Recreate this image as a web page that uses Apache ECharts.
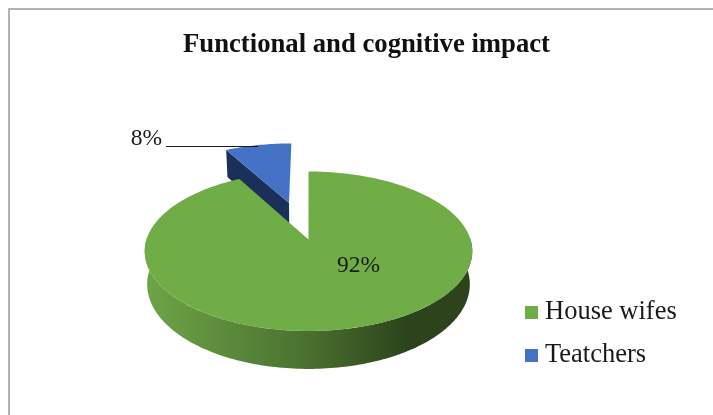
<!DOCTYPE html>
<html>
<head>
<meta charset="utf-8">
<style>html,body{margin:0;padding:0;background:#fff}#chart{width:713px;height:415px}</style>
<script src="https://cdn.jsdelivr.net/npm/echarts@6/dist/echarts.min.js"></script>
</head>
<body>
<div id="chart"></div>
<script>
const chartTitle = 'Functional and cognitive impact';
const categories = ['House wifes', 'Teatchers'];
const shares = [92, 8];
const topColors = ['#70ad47', '#4472c4'];
const wallStops = [
  [[0, '#6ea546'], [0.5, '#4a7030'], [0.8, '#2c431b'], [1, '#2c431b']],
  [[0, '#1b3059'], [1, '#1b3059']]
];
const serif = '"Liberation Serif", serif';

// Tilted disc: unit-circle coordinates are projected with a simple perspective.
const disc = { cx: 308.5, cy: 239.5, sx: 162, sy: 78, k: 0.147, depth: 32.4, shrink: 0.985 };
const explode = [0, 0.52];

function project(X, Y, lift) {
  const w = 1 + disc.k * Y;
  const f = lift ? disc.shrink : 1;
  return [
    disc.cx + f * disc.sx * X / w,
    disc.cy - disc.sy * Y / w + (lift ? disc.depth / w : 0)
  ];
}

function sliceLayout(index) {
  const total = shares.reduce((a, b) => a + b, 0);
  let before = 0;
  for (let i = 0; i < index; i++) before += shares[i];
  const start = before / total * 2 * Math.PI;
  const end = (before + shares[index]) / total * 2 * Math.PI;
  const mid = (start + end) / 2;
  return { start, end, ox: explode[index] * Math.sin(mid), oy: explode[index] * Math.cos(mid) };
}

function rim(s, lift, from, to) {
  const pts = [];
  const n = Math.max(2, Math.ceil((to - from) / 0.02));
  for (let i = 0; i <= n; i++) {
    const a = from + (to - from) * i / n;
    pts.push(project(s.ox + Math.sin(a), s.oy + Math.cos(a), lift));
  }
  return pts;
}

function renderSlice(index) {
  return function (params, api) {
    const s = sliceLayout(index);
    const apexTop = project(s.ox, s.oy, false);
    const apexLow = project(s.ox, s.oy, true);
    const children = [];
    const wallFill = {
      type: 'linear', x: 0, y: 0, x2: 1, y2: 0,
      colorStops: wallStops[index].map(([offset, color]) => ({ offset, color }))
    };
    if (index === 0) {
      // Outer wall along the near half of the disc.
      const nearFrom = Math.PI / 2 - 0.02, nearTo = 3 * Math.PI / 2 + 0.02;
      const upper = rim(s, false, nearFrom, nearTo);
      const lower = rim(s, true, nearFrom, nearTo).reverse();
      children.push({ type: 'polygon', shape: { points: upper.concat(lower) }, style: { fill: wallFill } });
    } else {
      // Cut face of the pulled-out slice, on its left-hand side.
      const edgeTop = project(s.ox + Math.sin(s.start), s.oy + Math.cos(s.start), false);
      const edgeLow = project(s.ox + Math.sin(s.start), s.oy + Math.cos(s.start), true);
      children.push({ type: 'polygon', shape: { points: [edgeTop, apexTop, apexLow, edgeLow] }, style: { fill: wallFill } });
    }
    const face = [apexTop].concat(rim(s, false, s.start, s.end));
    children.push({ type: 'polygon', shape: { points: face }, style: { fill: topColors[index] } });
    return { type: 'group', children };
  };
}

// Percent labels; the 8% label hangs on a leader line.
function renderLabels() {
  const text = (value, x, y) => ({
    type: 'text', x, y,
    style: { text: value + '%', fill: '#1a1a1a', font: '23.5px ' + serif, align: 'center', verticalAlign: 'middle' }
  });
  return {
    type: 'group',
    children: [
      { type: 'line', shape: { x1: 166, y1: 146.5, x2: 258, y2: 146.5 }, style: { stroke: '#1a1a1a', lineWidth: 1 } },
      text(shares[1], 146.5, 139),
      text(shares[0], 358.5, 266)
    ]
  };
}

const chart = echarts.init(document.getElementById('chart'), null, { renderer: 'canvas' });
chart.setOption({
  animation: false,
  backgroundColor: '#ffffff',
  title: {
    text: chartTitle, left: 178, top: 27,
    textStyle: { fontFamily: serif, fontWeight: 'bold', fontSize: 26.7, color: '#111111' }
  },
  legend: {
    orient: 'vertical', left: 520, top: 294, icon: 'rect',
    itemWidth: 13, itemHeight: 13, itemGap: 16,
    data: categories,
    textStyle: { fontFamily: serif, fontSize: 26.5, color: '#1a1a1a', padding: [0, 0, 0, 2] }
  },
  graphic: [
    { type: 'polyline', silent: true, shape: { points: [[9, 415], [9, 9], [713, 9]] }, style: { stroke: '#b2b2b2', lineWidth: 2, fill: null } }
  ],
  series: [
    { type: 'custom', name: categories[1], coordinateSystem: 'none', renderItem: renderSlice(1), data: [shares[1]], itemStyle: { color: topColors[1] }, silent: true, z: 1 },
    { type: 'custom', name: categories[0], coordinateSystem: 'none', renderItem: renderSlice(0), data: [shares[0]], itemStyle: { color: topColors[0] }, silent: true, z: 2 },
    { type: 'custom', name: 'labels', coordinateSystem: 'none', renderItem: renderLabels, data: [0], silent: true, z: 3 }
  ]
});
</script>
</body>
</html>
